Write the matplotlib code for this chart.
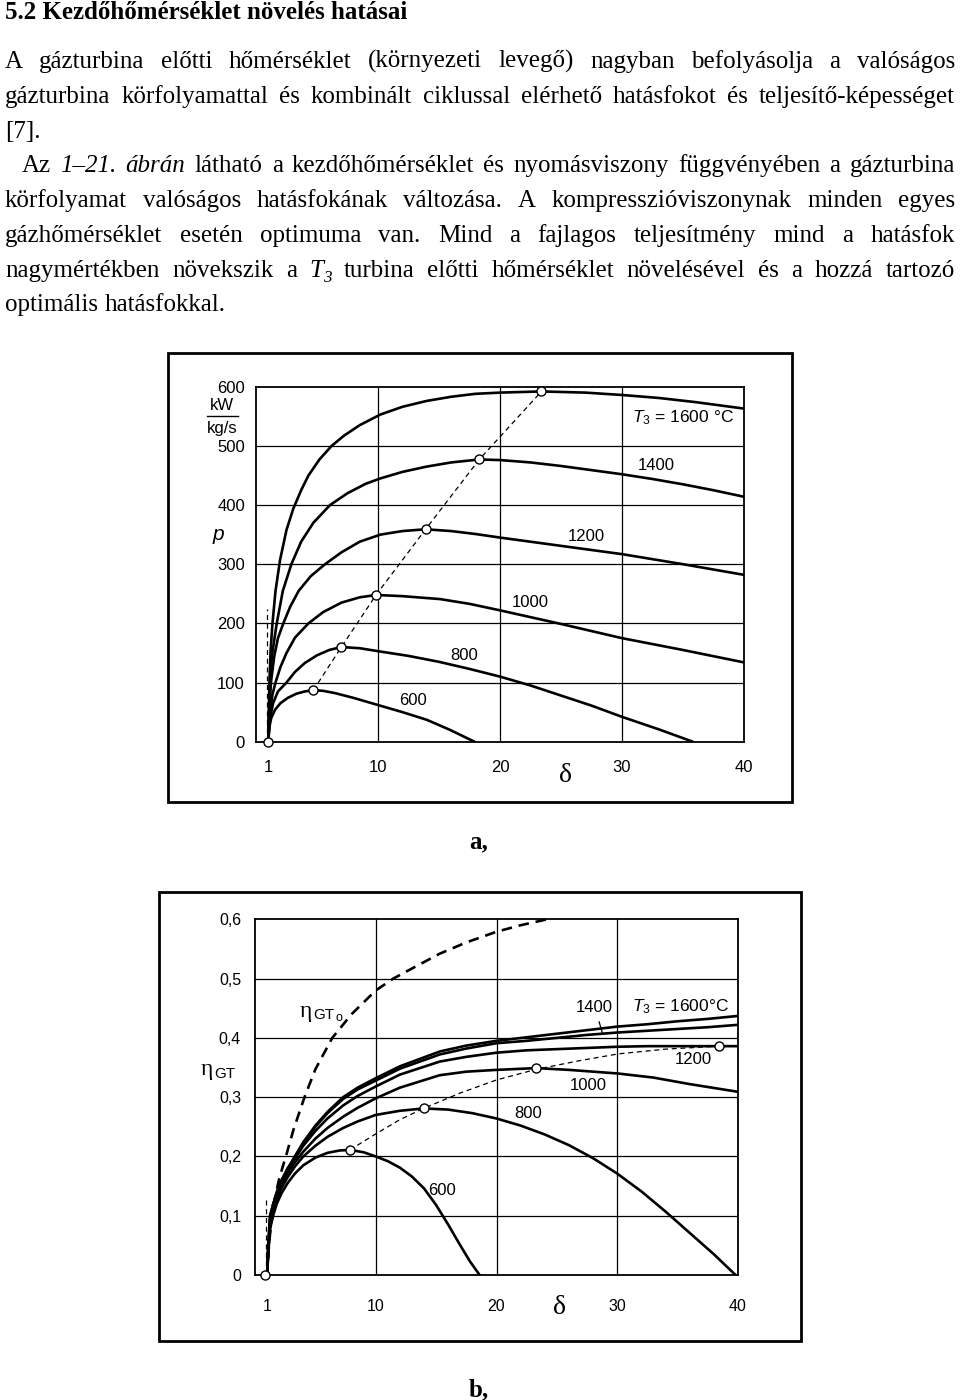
import matplotlib
matplotlib.use('Agg')
import matplotlib.pyplot as plt
from matplotlib.patches import Rectangle
from matplotlib.lines import Line2D

W, H = 960, 1400
SERIF = 'Liberation Serif'
SANS = 'Liberation Sans'
BODY = 18

plt.rcParams['font.family'] = [SANS, 'DejaVu Sans']
plt.rcParams['mathtext.fontset'] = 'custom'
plt.rcParams['mathtext.it'] = 'Liberation Sans:italic'
plt.rcParams['mathtext.rm'] = 'Liberation Sans'

# ---------------- text of the page ----------------
title = "5.2 Kezdőhőmérséklet növelés hatásai"
para_lines = [
    "A gázturbina előtti hőmérséklet (környezeti levegő) nagyban befolyásolja a valóságos",
    "gázturbina körfolyamattal és kombinált ciklussal elérhető hatásfokot és teljesítő-képességet",
    "[7].",
    "Az *1–21. *ábrán látható a kezdőhőmérséklet és nyomásviszony függvényében a gázturbina",
    "körfolyamat valóságos hatásfokának változása. A kompresszióviszonynak minden egyes",
    "gázhőmérséklet esetén optimuma van. Mind a fajlagos teljesítmény mind a hatásfok",
    "nagymértékben növekszik a T_3 turbina előtti hőmérséklet növelésével és a hozzá tartozó",
    "optimális hatásfokkal.",
]
para_y = [61, 96, 131, 165, 200, 235, 270, 304]
para_x0 = [5, 5, 5, 22, 5, 5, 5, 5]
para_justify = [True, True, False, True, True, True, True, False]

# ---------------- chart a: specific work p vs pressure ratio ----------------
delta_ticks = [1, 10, 20, 30, 40]
p_ticks = [0, 100, 200, 300, 400, 500, 600]
a_grid_x = [10, 20, 30]
a_grid_y = [100, 200, 300, 400, 500]

p1600_x = [1, 1.05, 1.1, 1.2, 1.35, 1.6, 1.97, 2.5, 3.06, 3.7, 4.3, 5.2, 6.2, 7.2, 8.5,
           10.2, 12, 14, 16, 18, 20, 23.4, 27, 30, 33, 36, 40]
p1600_y = [0, 50, 100, 155, 200, 255, 307, 358, 394, 425, 450, 477, 500, 517, 535,
           553, 566, 576, 583, 588, 590, 592, 590, 586, 581, 574, 563]
p1400_x = [1, 1.07, 1.15, 1.3, 1.7, 2.2, 2.9, 3.7, 4.7, 6.07, 7.5, 9, 10.2, 12, 14, 16,
           18.3, 20, 22.5, 25, 27.5, 30, 32.5, 35, 37.5, 40]
p1400_y = [0, 50, 100, 145, 200, 255, 300, 338, 370, 400, 420, 436, 445, 456, 465, 472,
           477, 476, 472, 466, 459, 452, 444, 435, 425, 414]
p1200_x = [1, 1.1, 1.25, 1.5, 1.8, 2.24, 2.8, 3.5, 4.5, 5.66, 7, 8.5, 10.2, 12, 13.9,
           16, 18, 20, 25, 30, 35, 40]
p1200_y = [0, 60, 105, 145, 175, 200, 228, 255, 280, 300, 320, 338, 350, 356, 359,
           356, 351, 345, 331, 317, 300, 282]
p1000_x = [1, 1.15, 1.35, 1.6, 2, 2.5, 3.2, 4.3, 5.5, 7, 8.5, 9.84, 12, 15.1, 17.5, 20,
           25, 30, 35, 40]
p1000_y = [0, 50, 80, 100, 126, 150, 176, 200, 219, 235, 244, 248, 246, 241, 233, 222,
           199, 175, 155, 134]
p800_x = [1, 1.15, 1.4, 1.8, 2.5, 3.2, 4, 5, 6, 7, 8.5, 10, 12.5, 15, 17.5, 20, 22.5,
          25, 27.5, 30, 33, 35.8]
p800_y = [0, 40, 65, 85, 100, 118, 133, 146, 155, 160, 158, 153, 145, 135, 123, 110, 95,
          78, 61, 42, 21, 0]
p600_x = [1, 1.1, 1.25, 1.56, 2, 2.6, 3.3, 4, 4.7, 5.5, 6.5, 8, 10, 12, 14, 15.9, 17.9]
p600_y = [0, 25, 40, 54, 65, 74, 81, 85, 87, 86, 82, 74, 62, 50, 37, 20, 0]
a_curves = [(p1600_x, p1600_y), (p1400_x, p1400_y), (p1200_x, p1200_y),
            (p1000_x, p1000_y), (p800_x, p800_y), (p600_x, p600_y)]
a_opt_x = [4.7, 7.0, 9.84, 13.9, 18.3, 23.4]
a_opt_y = [87, 160, 248, 359, 477, 592]
a_labels = [("1400", 32.8, 466), ("1200", 27.1, 346), ("1000", 22.5, 236),
            ("800", 17.05, 146), ("600", 12.9, 69)]

# ---------------- chart b: efficiency vs pressure ratio ----------------
eta_ticks = [0, 0.1, 0.2, 0.3, 0.4, 0.5, 0.6]
eta_tick_labels = ["0", "0,1", "0,2", "0,3", "0,4", "0,5", "0,6"]
b_grid_y = [0.1, 0.2, 0.3, 0.4, 0.5]

e0_x = [1, 1.1, 1.25, 1.4, 1.7, 2.0, 2.3, 2.6, 3.2, 4.1, 5, 6.4, 8, 10, 11.45, 13, 15.3,
        17.5, 20, 22, 24.2]
e0_y = [0, 0.035, 0.07, 0.095, 0.135, 0.162, 0.183, 0.203, 0.246, 0.3, 0.347, 0.4, 0.44,
        0.48, 0.5, 0.517, 0.542, 0.561, 0.579, 0.59, 0.6]
b_x = [1, 1.1, 1.25, 1.5, 1.8, 2.2, 2.7, 3.3, 4, 5, 6, 7.3, 8.5, 10, 12, 15.3, 17.5, 20,
       22.5, 25, 27.5, 30, 32.5, 35, 37.5, 40]
e1600_y = [0, 0.05, 0.1, 0.119, 0.138, 0.158, 0.179, 0.2, 0.224, 0.252, 0.275, 0.3, 0.316,
           0.332, 0.352, 0.377, 0.387, 0.395, 0.401, 0.407, 0.413, 0.419, 0.423, 0.428,
           0.432, 0.437]
e1400_y = [0, 0.05, 0.1, 0.119, 0.137, 0.157, 0.178, 0.199, 0.222, 0.25, 0.273, 0.297,
           0.313, 0.328, 0.348, 0.372, 0.382, 0.391, 0.395, 0.4, 0.405, 0.409, 0.412, 0.415,
           0.418, 0.422]
e1200_y = [0, 0.045, 0.093, 0.118, 0.14, 0.16, 0.18, 0.196, 0.218, 0.243, 0.264, 0.286,
           0.302, 0.318, 0.338, 0.36, 0.368, 0.375, 0.379, 0.381, 0.383, 0.385, 0.386,
           0.386, 0.386, 0.386]
e1000_x = [1, 1.1, 1.25, 1.5, 1.8, 2.2, 2.7, 3.3, 4, 5, 6, 7.3, 8.5, 10, 12, 15.3, 17.5,
           20, 23.3, 26, 30, 33, 36, 40]
e1000_y = [0, 0.042, 0.088, 0.113, 0.134, 0.153, 0.172, 0.19, 0.208, 0.23, 0.248, 0.267,
           0.282, 0.298, 0.316, 0.337, 0.343, 0.346, 0.349, 0.346, 0.34, 0.333, 0.322, 0.309]
e800_x = [1, 1.1, 1.25, 1.5, 1.8, 2.2, 2.7, 3.3, 4, 5, 6, 7.3, 8.5, 10, 12, 14, 16, 18, 20,
          22, 24, 26, 28, 30, 32, 34, 36, 38, 39.8]
e800_y = [0, 0.04, 0.083, 0.107, 0.128, 0.147, 0.165, 0.183, 0.2, 0.218, 0.233, 0.248,
          0.259, 0.27, 0.277, 0.281, 0.279, 0.273, 0.264, 0.252, 0.237, 0.219, 0.197, 0.171,
          0.141, 0.107, 0.071, 0.035, 0]
e600_x = [1, 1.1, 1.25, 1.5, 1.8, 2.2, 2.7, 3.3, 4, 5, 6, 7, 7.86, 9, 10, 11, 12, 13, 14,
          15, 16, 17, 17.8, 18.6]
e600_y = [0, 0.038, 0.078, 0.1, 0.12, 0.138, 0.155, 0.171, 0.185, 0.198, 0.206, 0.21, 0.211,
          0.207, 0.2, 0.192, 0.181, 0.166, 0.146, 0.118, 0.085, 0.05, 0.023, 0]
b_curves = [(b_x, e1600_y), (b_x, e1400_y), (b_x, e1200_y),
            (e1000_x, e1000_y), (e800_x, e800_y), (e600_x, e600_y)]
b_optline_x = [7.86, 10, 12, 13.96, 17, 20, 23.3, 27, 30.1, 34, 38.45]
b_optline_y = [0.211, 0.238, 0.262, 0.281, 0.307, 0.329, 0.347, 0.362, 0.373, 0.381, 0.386]
b_opt_x = [7.86, 13.96, 23.3, 38.45]
b_opt_y = [0.211, 0.281, 0.349, 0.386]
b_labels = [("1400", 28.1, 0.452), ("1200", 36.3, 0.363), ("1000", 27.6, 0.32),
            ("800", 22.6, 0.273), ("600", 15.5, 0.142)]


def fx(X):
    return X / W


def fy(Y):
    return 1 - Y / H


fig = plt.figure(figsize=(W / 100, H / 100), dpi=100)
fig.patch.set_facecolor('white')
renderer = fig.canvas.get_renderer()


def seg_text(x, y, s, style, size):
    kw = dict(family=SERIF, fontsize=size, va='baseline', ha='left')
    if style == 'i':
        kw['style'] = 'italic'
    elif style == 'sub':
        kw['style'] = 'italic'
        kw['fontsize'] = size * 0.68
        y = y + 5
    return fig.text(fx(x), fy(y), s, **kw)


def split_words(line):
    words = []
    for w in line.split(' '):
        if w.startswith('*'):
            words.append([(w.strip('*'), 'i')])
        elif w == 'T_3':
            words.append([('T', 'i'), ('3', 'sub')])
        else:
            words.append([(w, 'n')])
    return words


def draw_line(line, ybase, x0, x1, justify):
    words = split_words(line)
    size = BODY
    while True:
        placed, widths = [], []
        for word in words:
            arts, w = [], 0
            for s, st in word:
                t = seg_text(0, ybase, s, st, size)
                arts.append((t, w))
                w += t.get_window_extent(renderer).width
            placed.append(arts)
            widths.append(w)
        gap = (x1 - x0 - sum(widths)) / max(len(words) - 1, 1)
        if not justify or gap >= 3.5 or size < 12:
            break
        for arts in placed:
            for t, _ in arts:
                t.remove()
        size -= 0.25
    if not justify:
        gap = size * 100 / 72 * 0.25
    x = x0
    for arts, w in zip(placed, widths):
        for t, off in arts:
            t.set_x(fx(x + off))
        x += w + gap


fig.text(fx(5), fy(19), title, family=SERIF, fontsize=BODY, weight='bold',
         va='baseline', ha='left')
for line, yc, x0, just in zip(para_lines, para_y, para_x0, para_justify):
    draw_line(line, yc + 7, x0, 955, just)


def make_axes(L, R, T, B):
    return fig.add_axes([fx(L), fy(B), (R - L) / W, (B - T) / H])


def style_axes(ax, gx, gy, pad_x, pad_y, size):
    for g in gx:
        ax.axvline(g, color='black', lw=0.9, zorder=1)
    for g in gy:
        ax.axhline(g, color='black', lw=0.9, zorder=1)
    for sp in ax.spines.values():
        sp.set_linewidth(1.3)
    ax.tick_params(length=0, labelsize=size)
    ax.tick_params(axis='x', pad=pad_x)
    ax.tick_params(axis='y', pad=pad_y)


# frames
fig.patches.append(Rectangle((fx(168), fy(802)), (792 - 168) / W, (802 - 353) / H,
                             transform=fig.transFigure, fill=False, lw=2, ec='black'))
fig.patches.append(Rectangle((fx(159), fy(1341)), (801 - 159) / W, (1341 - 892) / H,
                             transform=fig.transFigure, fill=False, lw=2, ec='black'))

# ----- chart a -----
axA = make_axes(256, 744, 386.7, 741.7)
axA.set_xlim(0, 40)
axA.set_ylim(0, 600)
axA.set_xticks(delta_ticks)
axA.set_yticks(p_ticks)
style_axes(axA, a_grid_x, a_grid_y, 13, 8, 12)
for cx, cy in a_curves:
    axA.plot(cx, cy, color='black', lw=1.9, zorder=3, solid_capstyle='round',
             solid_joinstyle='round')
axA.plot(a_opt_x, a_opt_y, color='black', lw=0.9, ls=(0, (4, 3)), zorder=2)
axA.plot([0.9, 0.9], [0, 225], color='black', lw=0.9, ls=(0, (4, 3)), zorder=2)
axA.plot(a_opt_x + [1], a_opt_y + [0], 'o', mfc='white', mec='black', ms=6.5,
         mew=1, zorder=5, clip_on=False)
for s, x, y in a_labels:
    axA.text(x, y, s, ha='center', va='center', fontsize=12, zorder=4)
axA.text(35.0, 547, r'$T_3$ = 1600 °C', ha='center', va='center', fontsize=12.5, zorder=4)

fig.text(fx(222), fy(405), 'kW', ha='center', va='center', fontsize=12)
fig.text(fx(222), fy(428), 'kg/s', ha='center', va='center', fontsize=12)
fig.add_artist(Line2D([fx(207), fx(238)], [fy(416), fy(416)], color='black', lw=1))
fig.text(fx(218), fy(534), 'p', ha='center', va='center', fontsize=15, style='italic')
fig.text(fx(566), fy(775), 'δ', ha='center', va='center', fontsize=20, family=SERIF)
fig.text(fx(479), fy(842), 'a,', ha='center', va='center', fontsize=BODY, family=SERIF,
         weight='bold')

# ----- chart b -----
axB = make_axes(255, 738, 919.3, 1275)
axB.set_xlim(0, 40)
axB.set_ylim(0, 0.6)
axB.set_xticks(delta_ticks)
axB.set_yticks(eta_ticks)
axB.set_yticklabels(eta_tick_labels)
style_axes(axB, a_grid_x, b_grid_y, 17, 10, 11.5)
for cx, cy in b_curves:
    axB.plot(cx, cy, color='black', lw=1.9, zorder=3, solid_capstyle='round',
             solid_joinstyle='round')
axB.plot(e0_x, e0_y, color='black', lw=1.9, ls=(0, (4, 2.6)), zorder=3)
axB.plot(b_optline_x, b_optline_y, color='black', lw=0.9, ls=(0, (4, 3)), zorder=2)
axB.plot([0.9, 0.9], [0, 0.13], color='black', lw=0.9, ls=(0, (4, 3)), zorder=2)
axB.plot(b_opt_x + [0.8], b_opt_y + [0], 'o', mfc='white', mec='black', ms=6.5,
         mew=1, zorder=5, clip_on=False)
for s, x, y in b_labels:
    axB.text(x, y, s, ha='center', va='center', fontsize=12, zorder=4)
axB.plot([28.5, 28.8], [0.427, 0.406], color='black', lw=0.9, zorder=4)
axB.text(35.2, 0.452, r'$T_3$ = 1600°C', ha='center', va='center', fontsize=12.5, zorder=4)

fig.text(fx(306), fy(1011), 'η', ha='center', va='center', fontsize=17, family=SERIF)
fig.text(fx(313), fy(1015), 'GT', ha='left', va='center', fontsize=11)
fig.text(fx(336), fy(1018), 'o', ha='left', va='center', fontsize=9)
fig.text(fx(207), fy(1069), 'η', ha='center', va='center', fontsize=17, family=SERIF)
fig.text(fx(214), fy(1074), 'GT', ha='left', va='center', fontsize=11)
fig.text(fx(560), fy(1308), 'δ', ha='center', va='center', fontsize=20, family=SERIF)
fig.text(fx(479), fy(1390), 'b,', ha='center', va='center', fontsize=BODY, family=SERIF,
         weight='bold')

fig.savefig('out.png', dpi=100, facecolor='white')
